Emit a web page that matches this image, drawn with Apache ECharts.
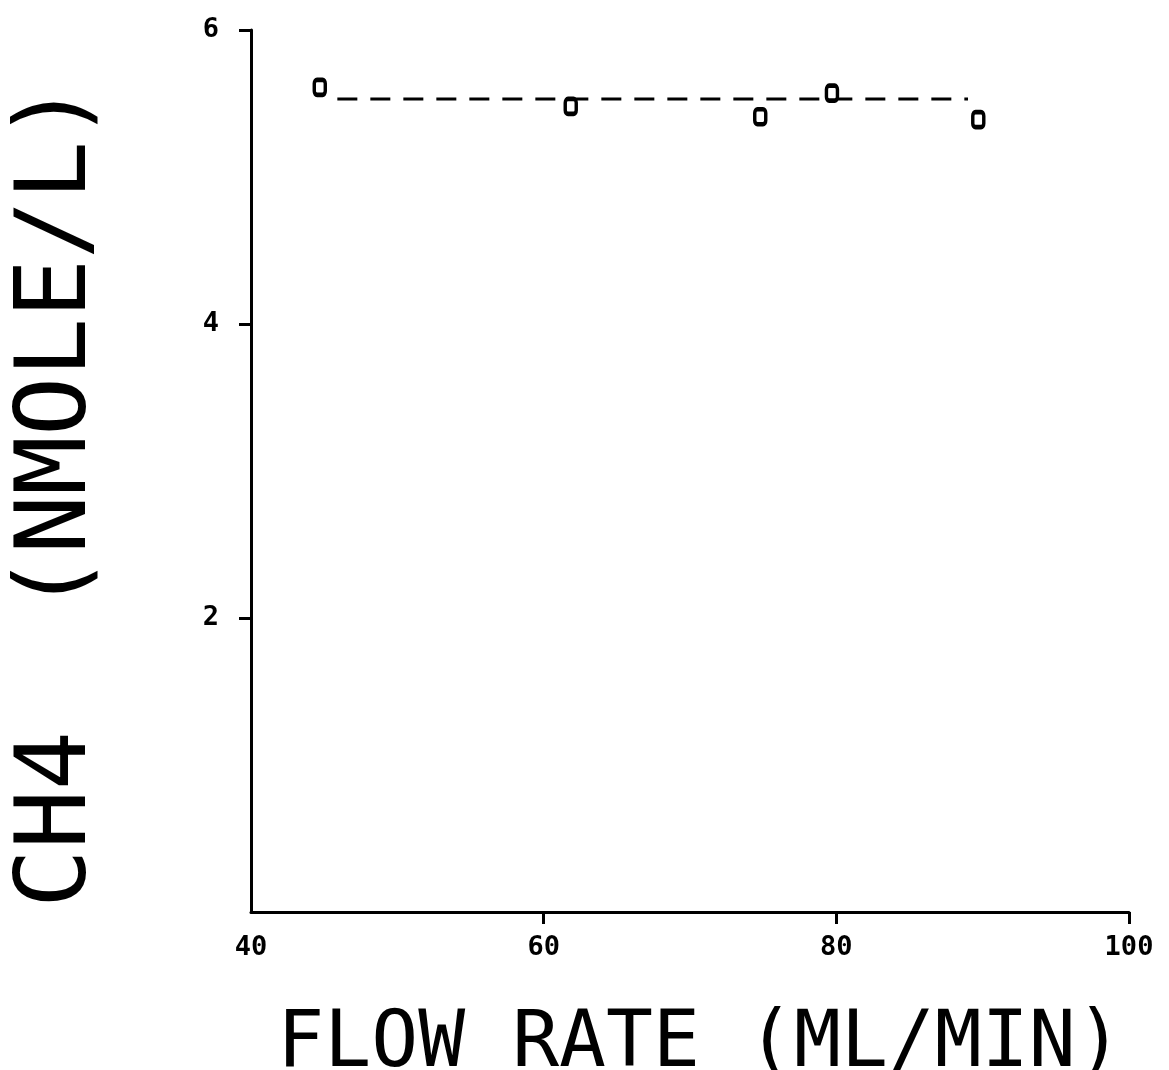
<!DOCTYPE html>
<html>
<head>
<meta charset="utf-8">
<script src="https://cdn.jsdelivr.net/npm/echarts@6/dist/echarts.min.js"></script>
<style>html,body{margin:0;padding:0;background:#fff}#c{width:1169px;height:1070px}</style>
</head>
<body>
<div id="c"></div>
<script>
// Measured points: flow rate (ML/MIN) vs CH4 (NMOLE/L)
const flowRate = [44.7, 61.85, 74.8, 79.7, 89.7];
const ch4 = [5.61, 5.48, 5.41, 5.57, 5.39];
// Dashed fitted line
const fitX = [45.9, 89.0];
const fitY = [5.53, 5.53];
// Axis ticks
const xTicks = [40, 60, 80, 100];
const yTicks = [2, 4, 6];

const chart = echarts.init(document.getElementById('c'));
const mono = "'DejaVu Sans Mono', 'Liberation Mono', monospace";
chart.setOption({
  animation: false,
  backgroundColor: '#ffffff',
  grid: { left: 251, right: 40, top: 30, bottom: 158, containLabel: false, outerBoundsMode: 'none' },
  xAxis: {
    type: 'value', min: 40, max: 100, interval: 20,
    splitLine: { show: false },
    axisLine: { lineStyle: { color: '#000', width: 3 } },
    axisTick: { length: 12, lineStyle: { color: '#000', width: 3 }, customValues: xTicks.slice(1) },
    axisLabel: { color: '#000', fontFamily: mono, fontWeight: 'bold', fontSize: 27, margin: 22, customValues: xTicks },
    name: 'FLOW RATE (ML/MIN)', nameLocation: 'middle', nameGap: 95,
    nameTextStyle: { color: '#000', fontFamily: mono, fontSize: 78, padding: [0, 0, 0, 20] }
  },
  yAxis: {
    type: 'value', min: 0, max: 6, interval: 2,
    splitLine: { show: false },
    axisLine: { lineStyle: { color: '#000', width: 3 } },
    axisTick: { length: 12, lineStyle: { color: '#000', width: 3 }, customValues: yTicks },
    axisLabel: { color: '#000', fontFamily: mono, fontWeight: 'bold', fontSize: 27, margin: 32, customValues: yTicks },
    name: 'CH4  (NMOLE/L)', nameLocation: 'middle', nameGap: 142, nameRotate: 90,
    nameTextStyle: { color: '#000', fontFamily: mono, fontSize: 98, padding: [0, 48, 0, 0] }
  },
  series: [
    {
      type: 'line',
      data: fitX.map((x, i) => [x, fitY[i]]),
      symbol: 'none',
      lineStyle: { color: '#000', width: 3, type: [20, 13] },
      z: 1
    },
    {
      type: 'scatter',
      data: flowRate.map((x, i) => [x, ch4[i]]),
      symbol: 'roundRect',
      symbolSize: [11, 15],
      itemStyle: { color: '#fff', borderColor: '#000', borderWidth: 4, opacity: 1 },
      z: 3
    }
  ]
});
</script>
</body>
</html>
